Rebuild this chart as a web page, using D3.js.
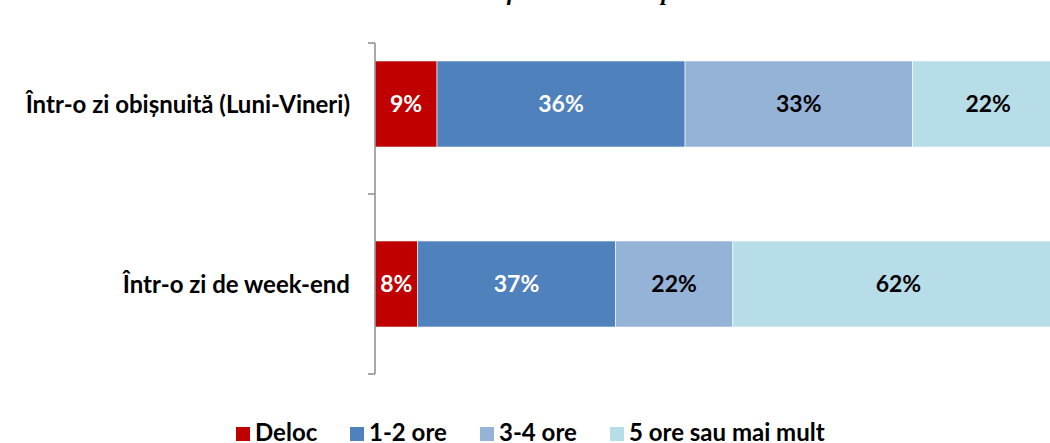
<!DOCTYPE html>
<html><head><meta charset="utf-8">
<script src="https://cdn.jsdelivr.net/npm/d3@7"></script>
<style>body{margin:0;background:#fff}svg{display:block}</style>
</head><body>
<svg id="c" width="1050" height="443"></svg>
<script>
const categories = ["Într-o zi obișnuită (Luni-Vineri)", "Într-o zi de week-end"];
const seriesNames = ["Deloc", "1-2 ore", "3-4 ore", "5 ore sau mai mult"];
const seriesColors = ["#C00000", "#4F81BD", "#95B3D7", "#B7DDE8"];
const labelColors = ["#fff", "#fff", "#000", "#000"];
const values = [
  [9, 36, 33, 22],
  [8, 37, 22, 62]
];
const titleText = "Grafic nr. 11 – Ore petrecute";

const svg = d3.select("#c");
const font = "Lato, 'Open Sans', sans-serif";

const x = d3.scaleLinear().domain([0, 1]).range([375, 1064]);
const y = d3.scaleBand().domain(categories).range([14, 374]).paddingInner(0.522).paddingOuter(0.261);

// title (mostly clipped above)
svg.append("text").attr("x", 610).attr("y", 0).attr("text-anchor", "middle")
  .attr("font-family", "'Liberation Serif', serif").attr("font-weight", "bold").attr("font-style", "italic")
  .attr("font-size", 24).text(titleText);

const rows = categories.map((c, i) => {
  const tot = d3.sum(values[i]);
  let acc = 0;
  return values[i].map((v, j) => { const s = acc / tot; acc += v; return {cat: c, j, v, x0: s, x1: acc / tot}; });
});

const g = svg.append("g");
rows.forEach(r => {
  r.forEach(d => {
    g.append("rect").attr("x", x(d.x0)).attr("y", y(d.cat))
      .attr("width", x(d.x1) - x(d.x0)).attr("height", y.bandwidth())
      .attr("fill", seriesColors[d.j]).attr("stroke", "#fff").attr("stroke-width", 0.6);
    g.append("text").attr("x", (x(d.x0) + x(d.x1)) / 2).attr("y", y(d.cat) + y.bandwidth() / 2)
      .attr("dy", "0.36em").attr("text-anchor", "middle")
      .attr("font-family", font).attr("font-weight", "bold").attr("font-size", 23)
      .attr("fill", labelColors[d.j]).text(d.v + "%");
  });
});

// axis
const ax = svg.append("g").attr("stroke", "#8c8c8c").attr("stroke-width", 1.5).attr("fill", "none");
ax.append("line").attr("x1", 375).attr("x2", 375).attr("y1", 43).attr("y2", 374);
[43, y.range()[0] + y.step(), 374].forEach(t => {
  ax.append("line").attr("x1", 368).attr("x2", 375).attr("y1", t).attr("y2", t);
});

categories.forEach(c => {
  svg.append("text").attr("x", 350).attr("y", y(c) + y.bandwidth() / 2).attr("dy", "0.36em")
    .attr("text-anchor", "end").attr("font-family", font).attr("font-weight", "bold")
    .attr("font-size", 24).attr("fill", "#000").text(c);
});

// legend
const legX = [236, 350, 480, 610];
seriesNames.forEach((s, j) => {
  svg.append("rect").attr("x", legX[j]).attr("y", 427).attr("width", 14).attr("height", 14).attr("fill", seriesColors[j]);
  svg.append("text").attr("x", legX[j] + 19).attr("y", 441).attr("font-family", font)
    .attr("font-weight", "bold").attr("font-size", 24).attr("fill", "#000").text(s);
});
</script>
</body></html>
